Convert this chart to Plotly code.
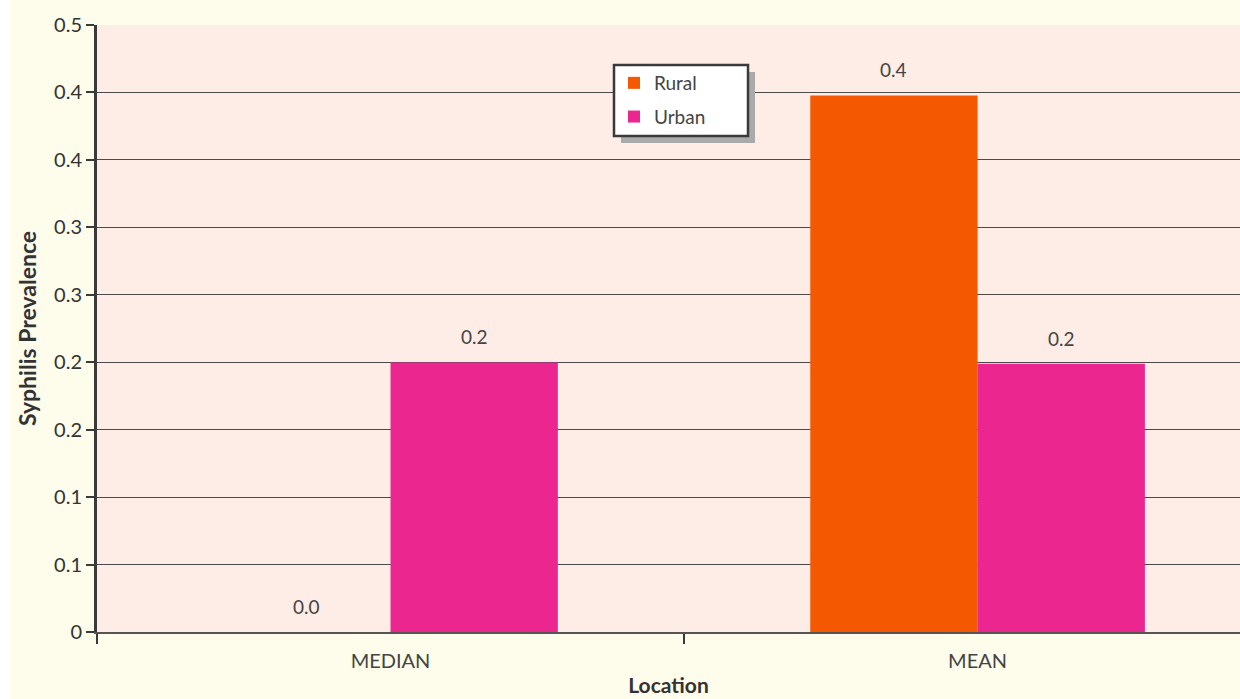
import plotly.graph_objects as go

# Syphilis prevalence by location statistic
categories = ["MEDIAN", "MEAN"]
rural = [0.0, 0.442]
urban = [0.222, 0.221]
series_names = ["Rural", "Urban"]
series_colors = ["#F45800", "#EC268F"]

y_max = 0.5
tick_count = 9
tick_labels = ["0", "0.1", "0.1", "0.2", "0.2", "0.3", "0.3", "0.4", "0.4", "0.5"]
tick_vals = [i * y_max / tick_count for i in range(tick_count + 1)]

font_family = "Lato, 'Open Sans', sans-serif"
text_color = "#444444"

fig = go.Figure()
for name, vals, col in zip(series_names, [rural, urban], series_colors):
    fig.add_trace(go.Bar(name=name, x=categories, y=vals, marker_color=col,
                         marker_line_width=0, legendgroup=name))

# value labels above each bar
bar_w = 0.285
annotations = []
for k, vals in enumerate([rural, urban]):
    off = (k - 0.5) * bar_w
    for i, v in enumerate(vals):
        annotations.append(dict(x=i + off, y=v, xref="x", yref="y",
                                text=f"{v:.1f}", showarrow=False,
                                yanchor="bottom", yshift=12,
                                font=dict(size=19, color=text_color)))

# plot-area size in pixels, used to place paper-referenced shapes
L, R, T, B, W, H = 97, 0, 25, 67, 1240, 699
pw, ph = W - L - R, H - T - B


def px_x(x):
    return (x - L) / pw


def px_y(y):
    return (H - B - y) / ph


shapes = [
    # white strip along the left edge of the page
    dict(type="rect", xref="paper", yref="paper",
         x0=px_x(0), x1=px_x(10), y0=px_y(H), y1=px_y(0),
         fillcolor="#FFFFFF", line_width=0, layer="below"),
    # legend drop shadow
    dict(type="rect", xref="paper", yref="paper",
         x0=px_x(621), x1=px_x(755), y0=px_y(143), y1=px_y(72),
         fillcolor="#AAAAAA", line_width=0, layer="above"),
    # legend box
    dict(type="rect", xref="paper", yref="paper",
         x0=px_x(614), x1=px_x(748), y0=px_y(136), y1=px_y(65),
         fillcolor="#FFFFFF", line=dict(color="#3A3A3A", width=2.5),
         layer="above"),
]

fig.update_layout(
    width=W, height=H,
    margin=dict(l=L, r=R, t=T, b=B),
    paper_bgcolor="#FEFCEA",
    plot_bgcolor="#FEECE6",
    barmode="group",
    bargap=0.43,
    bargroupgap=0,
    font=dict(family=font_family, size=18, color=text_color),
    annotations=annotations,
    shapes=shapes,
    legend=dict(x=px_x(614), y=px_y(64), xanchor="left", yanchor="top",
                bgcolor="rgba(0,0,0,0)", borderwidth=0,
                font=dict(size=19, color=text_color),
                tracegroupgap=6),
    xaxis=dict(
        range=[-0.5, 1.447],
        showgrid=False,
        showline=True, linecolor="#555555", linewidth=1.5,
        ticks="outside", tickson="boundaries", ticklen=10, tickwidth=2,
        tickcolor="#3A3A3A",
        tickfont=dict(size=20, color=text_color),
        ticklabelstandoff=10,
        title=dict(text="<b>Location</b>", font=dict(size=21, color="#333333"),
                   standoff=8),
    ),
    yaxis=dict(
        range=[0, y_max],
        tickvals=tick_vals, ticktext=tick_labels,
        showgrid=True, gridcolor="#4A4A4A", gridwidth=1,
        showline=True, linecolor="#3A3A3A", linewidth=3,
        ticks="outside", ticklen=8, tickwidth=2, tickcolor="#3A3A3A",
        tickfont=dict(size=20, color="#333333"),
        zeroline=False,
        title=dict(text="<b>Syphilis Prevalence</b>",
                   font=dict(size=23, color="#333333"), standoff=12),
    ),
)

fig.write_html("out.html")
